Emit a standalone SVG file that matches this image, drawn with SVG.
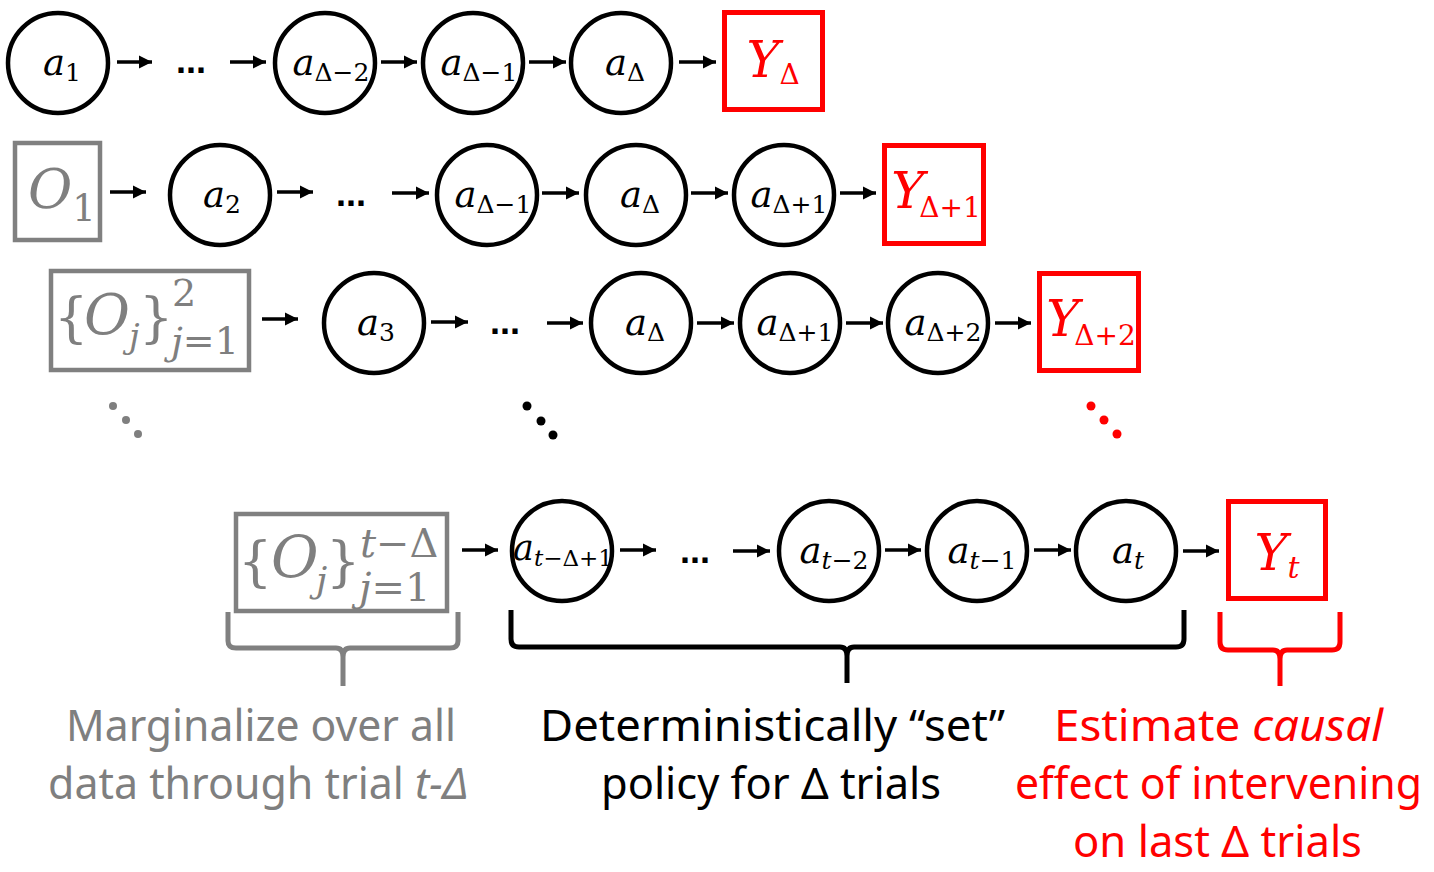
<svg xmlns="http://www.w3.org/2000/svg" width="1434" height="872" viewBox="0 0 1434 872">
<defs>
<style>
.c{fill:#fff;stroke:#000;stroke-width:4.5}
.yb{fill:#fff;stroke:#ff0000;stroke-width:5}
.gb{fill:#fff;stroke:#808080;stroke-width:4.5}
.m{font-family:"DejaVu Serif",serif;font-style:italic;font-size:37px;fill:#000}
.s{font-style:normal;font-size:25px}
.y{font-family:"DejaVu Serif",serif;font-style:italic;font-size:50px;fill:#ff0000}
.ys{font-style:normal;font-size:28px}
.it{font-style:italic}
.g{font-family:"DejaVu Serif",serif;fill:#7f7f7f}
.dots{font-family:"Liberation Sans",sans-serif;font-weight:bold;font-size:36px;fill:#000}
.lab{font-family:"Noto Sans",sans-serif;font-size:44px}
.ar{stroke:#000;stroke-width:3.5;fill:none}
.br{fill:none;stroke-width:5;stroke-linejoin:round}
</style>
<marker id="ah" markerUnits="userSpaceOnUse" markerWidth="14" markerHeight="14" refX="13" refY="7" orient="auto">
<path d="M0,0.5 L13,7 L0,13.5 Z" fill="#000"/>
</marker>
</defs>
<rect width="1434" height="872" fill="#fff"/>

<g id="connectors">
<line class="ar" x1="117" y1="62" x2="152" y2="62" marker-end="url(#ah)"/>
<line class="ar" x1="230" y1="62" x2="266" y2="62" marker-end="url(#ah)"/>
<line class="ar" x1="381" y1="62" x2="417" y2="62" marker-end="url(#ah)"/>
<line class="ar" x1="529" y1="62" x2="566" y2="62" marker-end="url(#ah)"/>
<line class="ar" x1="679" y1="62" x2="716" y2="62" marker-end="url(#ah)"/>

<line class="ar" x1="110" y1="192" x2="146" y2="192" marker-end="url(#ah)"/>
<line class="ar" x1="277" y1="192" x2="313" y2="192" marker-end="url(#ah)"/>
<line class="ar" x1="392" y1="193" x2="429" y2="193" marker-end="url(#ah)"/>
<line class="ar" x1="542" y1="193" x2="579" y2="193" marker-end="url(#ah)"/>
<line class="ar" x1="691" y1="193" x2="728" y2="193" marker-end="url(#ah)"/>
<line class="ar" x1="840" y1="193" x2="876" y2="193" marker-end="url(#ah)"/>

<line class="ar" x1="262" y1="319" x2="298" y2="319" marker-end="url(#ah)"/>
<line class="ar" x1="431" y1="322" x2="468" y2="322" marker-end="url(#ah)"/>
<line class="ar" x1="547" y1="323" x2="583" y2="323" marker-end="url(#ah)"/>
<line class="ar" x1="697" y1="323" x2="734" y2="323" marker-end="url(#ah)"/>
<line class="ar" x1="846" y1="323" x2="883" y2="323" marker-end="url(#ah)"/>
<line class="ar" x1="995" y1="323" x2="1031" y2="323" marker-end="url(#ah)"/>

<line class="ar" x1="462" y1="550" x2="498" y2="550" marker-end="url(#ah)"/>
<line class="ar" x1="620" y1="550" x2="656" y2="550" marker-end="url(#ah)"/>
<line class="ar" x1="733" y1="551" x2="770" y2="551" marker-end="url(#ah)"/>
<line class="ar" x1="885" y1="550" x2="921" y2="550" marker-end="url(#ah)"/>
<line class="ar" x1="1034" y1="550" x2="1071" y2="550" marker-end="url(#ah)"/>
<line class="ar" x1="1183" y1="551" x2="1219" y2="551" marker-end="url(#ah)"/>
</g>

<!-- Row 1 -->
<g id="r1_a1"><circle class="c" cx="58" cy="63" r="50"/><text class="m" x="62" y="75" text-anchor="middle">a<tspan class="s" dy="6">1</tspan></text></g>
<g id="r1_dots"><text class="dots" x="176" y="73">...</text></g>
<g id="r1_aD2"><circle class="c" cx="325" cy="63" r="50"/><text class="m" x="331" y="75" text-anchor="middle">a<tspan class="s" dy="6">Δ−2</tspan></text></g>
<g id="r1_aD1"><circle class="c" cx="473" cy="63" r="50"/><text class="m" x="479" y="75" text-anchor="middle">a<tspan class="s" dy="6">Δ−1</tspan></text></g>
<g id="r1_aD"><circle class="c" cx="621" cy="63" r="50"/><text class="m" x="625" y="75" text-anchor="middle">a<tspan class="s" dy="6">Δ</tspan></text></g>
<g id="r1_Y"><rect class="yb" x="724.5" y="12.5" width="98" height="97"/><text class="y" x="773" y="77" text-anchor="middle">Y<tspan class="ys" dy="7">Δ</tspan></text></g>

<!-- Row 2 -->
<g id="r2_O"><rect class="gb" x="15" y="143" width="85" height="97"/><text class="g" x="28" y="208" font-size="54" font-style="italic">O<tspan style="font-style:normal;font-size:37px" dy="13">1</tspan></text></g>
<g id="r2_a2"><circle class="c" cx="220" cy="195" r="50"/><text class="m" x="222" y="207" text-anchor="middle">a<tspan class="s" dy="6">2</tspan></text></g>
<g id="r2_dots"><text class="dots" x="336" y="206">...</text></g>
<g id="r2_aD1"><circle class="c" cx="487" cy="195" r="50"/><text class="m" x="493" y="207" text-anchor="middle">a<tspan class="s" dy="6">Δ−1</tspan></text></g>
<g id="r2_aD"><circle class="c" cx="636" cy="195" r="50"/><text class="m" x="640" y="207" text-anchor="middle">a<tspan class="s" dy="6">Δ</tspan></text></g>
<g id="r2_aDp1"><circle class="c" cx="784" cy="195" r="50"/><text class="m" x="789" y="207" text-anchor="middle">a<tspan class="s" dy="6">Δ+1</tspan></text></g>
<g id="r2_Y"><rect class="yb" x="884.5" y="145.5" width="99" height="98"/><text class="y" x="936" y="208" text-anchor="middle">Y<tspan class="ys" dx="-5" dy="9">Δ+1</tspan></text></g>

<!-- Row 3 -->
<g id="r3_O"><rect class="gb" x="51" y="271" width="198" height="99"/>
<text class="g" font-size="54" x="54" y="336">{</text>
<text class="g it" font-size="56" x="84" y="334">O</text>
<text class="g it" font-size="34" x="129" y="348">j</text>
<text class="g" font-size="54" x="139" y="336">}</text>
<text class="g" font-size="38" x="172" y="306">2</text>
<text class="g" font-size="38" x="171" y="354"><tspan class="it">j</tspan>=1</text></g>
<g id="r3_a3"><circle class="c" cx="374" cy="323" r="50"/><text class="m" x="376" y="335" text-anchor="middle">a<tspan class="s" dy="6">3</tspan></text></g>
<g id="r3_dots"><text class="dots" x="490" y="334">...</text></g>
<g id="r3_aD"><circle class="c" cx="641" cy="323" r="50"/><text class="m" x="645" y="335" text-anchor="middle">a<tspan class="s" dy="6">Δ</tspan></text></g>
<g id="r3_aDp1"><circle class="c" cx="790" cy="323" r="50"/><text class="m" x="795" y="335" text-anchor="middle">a<tspan class="s" dy="6">Δ+1</tspan></text></g>
<g id="r3_aDp2"><circle class="c" cx="938" cy="323" r="50"/><text class="m" x="943" y="335" text-anchor="middle">a<tspan class="s" dy="6">Δ+2</tspan></text></g>
<g id="r3_Y"><rect class="yb" x="1039.5" y="273.5" width="99" height="97"/><text class="y" x="1091" y="336" text-anchor="middle">Y<tspan class="ys" dx="-5" dy="9">Δ+2</tspan></text></g>

<!-- Ellipsis dots -->
<g id="vdots">
<circle cx="113" cy="406" r="4" fill="#7f7f7f"/><circle cx="126" cy="420" r="4" fill="#7f7f7f"/><circle cx="138" cy="434" r="4" fill="#7f7f7f"/>
<circle cx="527" cy="406" r="4.5" fill="#000"/><circle cx="541" cy="421" r="4.5" fill="#000"/><circle cx="553" cy="435" r="4.5" fill="#000"/>
<circle cx="1091" cy="406" r="4.5" fill="#ff0000"/><circle cx="1104" cy="420" r="4.5" fill="#ff0000"/><circle cx="1117" cy="434" r="4.5" fill="#ff0000"/>
</g>

<!-- Row 4 -->
<g id="r4_O"><rect class="gb" x="236" y="514" width="211" height="97"/>
<text class="g" font-size="54" x="238" y="580">{</text>
<text class="g it" font-size="58" x="271" y="577">O</text>
<text class="g it" font-size="36" x="316" y="592">j</text>
<text class="g" font-size="54" x="326" y="580">}</text>
<text class="g" font-size="40" x="360" y="557"><tspan class="it">t</tspan>−Δ</text>
<text class="g" font-size="40" x="359" y="601"><tspan class="it">j</tspan>=1</text></g>
<g id="r4_at1"><circle class="c" cx="562" cy="551" r="50"/><text class="m" x="563" y="560" text-anchor="middle" style="font-size:35px">a<tspan style="font-style:normal;font-size:23px" dy="6"><tspan class="it">t</tspan>−Δ+1</tspan></text></g>
<g id="r4_dots"><text class="dots" x="680" y="563">...</text></g>
<g id="r4_at2"><circle class="c" cx="829" cy="551" r="50"/><text class="m" x="834" y="563" text-anchor="middle">a<tspan class="s" dy="6"><tspan class="it">t</tspan>−2</tspan></text></g>
<g id="r4_at1b"><circle class="c" cx="977" cy="551" r="50"/><text class="m" x="982" y="563" text-anchor="middle">a<tspan class="s" dy="6"><tspan class="it">t</tspan>−1</tspan></text></g>
<g id="r4_at"><circle class="c" cx="1126" cy="551" r="50"/><text class="m" x="1128" y="563" text-anchor="middle">a<tspan class="s it" dy="6">t</tspan></text></g>
<g id="r4_Y"><rect class="yb" x="1228.5" y="501.5" width="97" height="97"/><text class="y" x="1277" y="570" text-anchor="middle">Y<tspan style="font-style:italic;font-size:30px" dy="8">t</tspan></text></g>

<!-- Braces -->
<g id="braces">
<path class="br" stroke="#808080" d="M228,612 V641 Q228,648 236,648 H336 Q343,648 343,657 V686 M343,657 Q343,648 350,648 H450 Q458,648 458,641 V612"/>
<path class="br" stroke="#000" d="M511,610 V639 Q511,647 519,647 H840 Q847,647 847,656 V683 M847,656 Q847,647 854,647 H1176 Q1184,647 1184,639 V610"/>
<path class="br" stroke="#ff0000" d="M1220,612 V642 Q1220,650 1228,650 H1273 Q1280,650 1280,659 V686 M1280,659 Q1280,650 1287,650 H1332 Q1340,650 1340,642 V612"/>
</g>

<!-- Labels -->
<g id="label_gray" class="lab" fill="#7f7f7f">
<text x="66" y="741" textLength="390" lengthAdjust="spacingAndGlyphs">Marginalize over all</text>
<text x="48" y="799" textLength="420" lengthAdjust="spacingAndGlyphs">data through trial <tspan class="it">t-Δ</tspan></text>
</g>
<g id="label_black" class="lab" fill="#000">
<text x="540" y="741" textLength="465" lengthAdjust="spacingAndGlyphs">Deterministically “set”</text>
<text x="601" y="799" textLength="340" lengthAdjust="spacingAndGlyphs">policy for Δ trials</text>
</g>
<g id="label_red" class="lab" fill="#ff0000">
<text x="1054" y="741" textLength="329" lengthAdjust="spacingAndGlyphs">Estimate <tspan class="it">causal</tspan></text>
<text x="1015" y="799" textLength="407" lengthAdjust="spacingAndGlyphs">effect of intervening</text>
<text x="1073" y="857" textLength="289" lengthAdjust="spacingAndGlyphs">on last Δ trials</text>
</g>
</svg>
